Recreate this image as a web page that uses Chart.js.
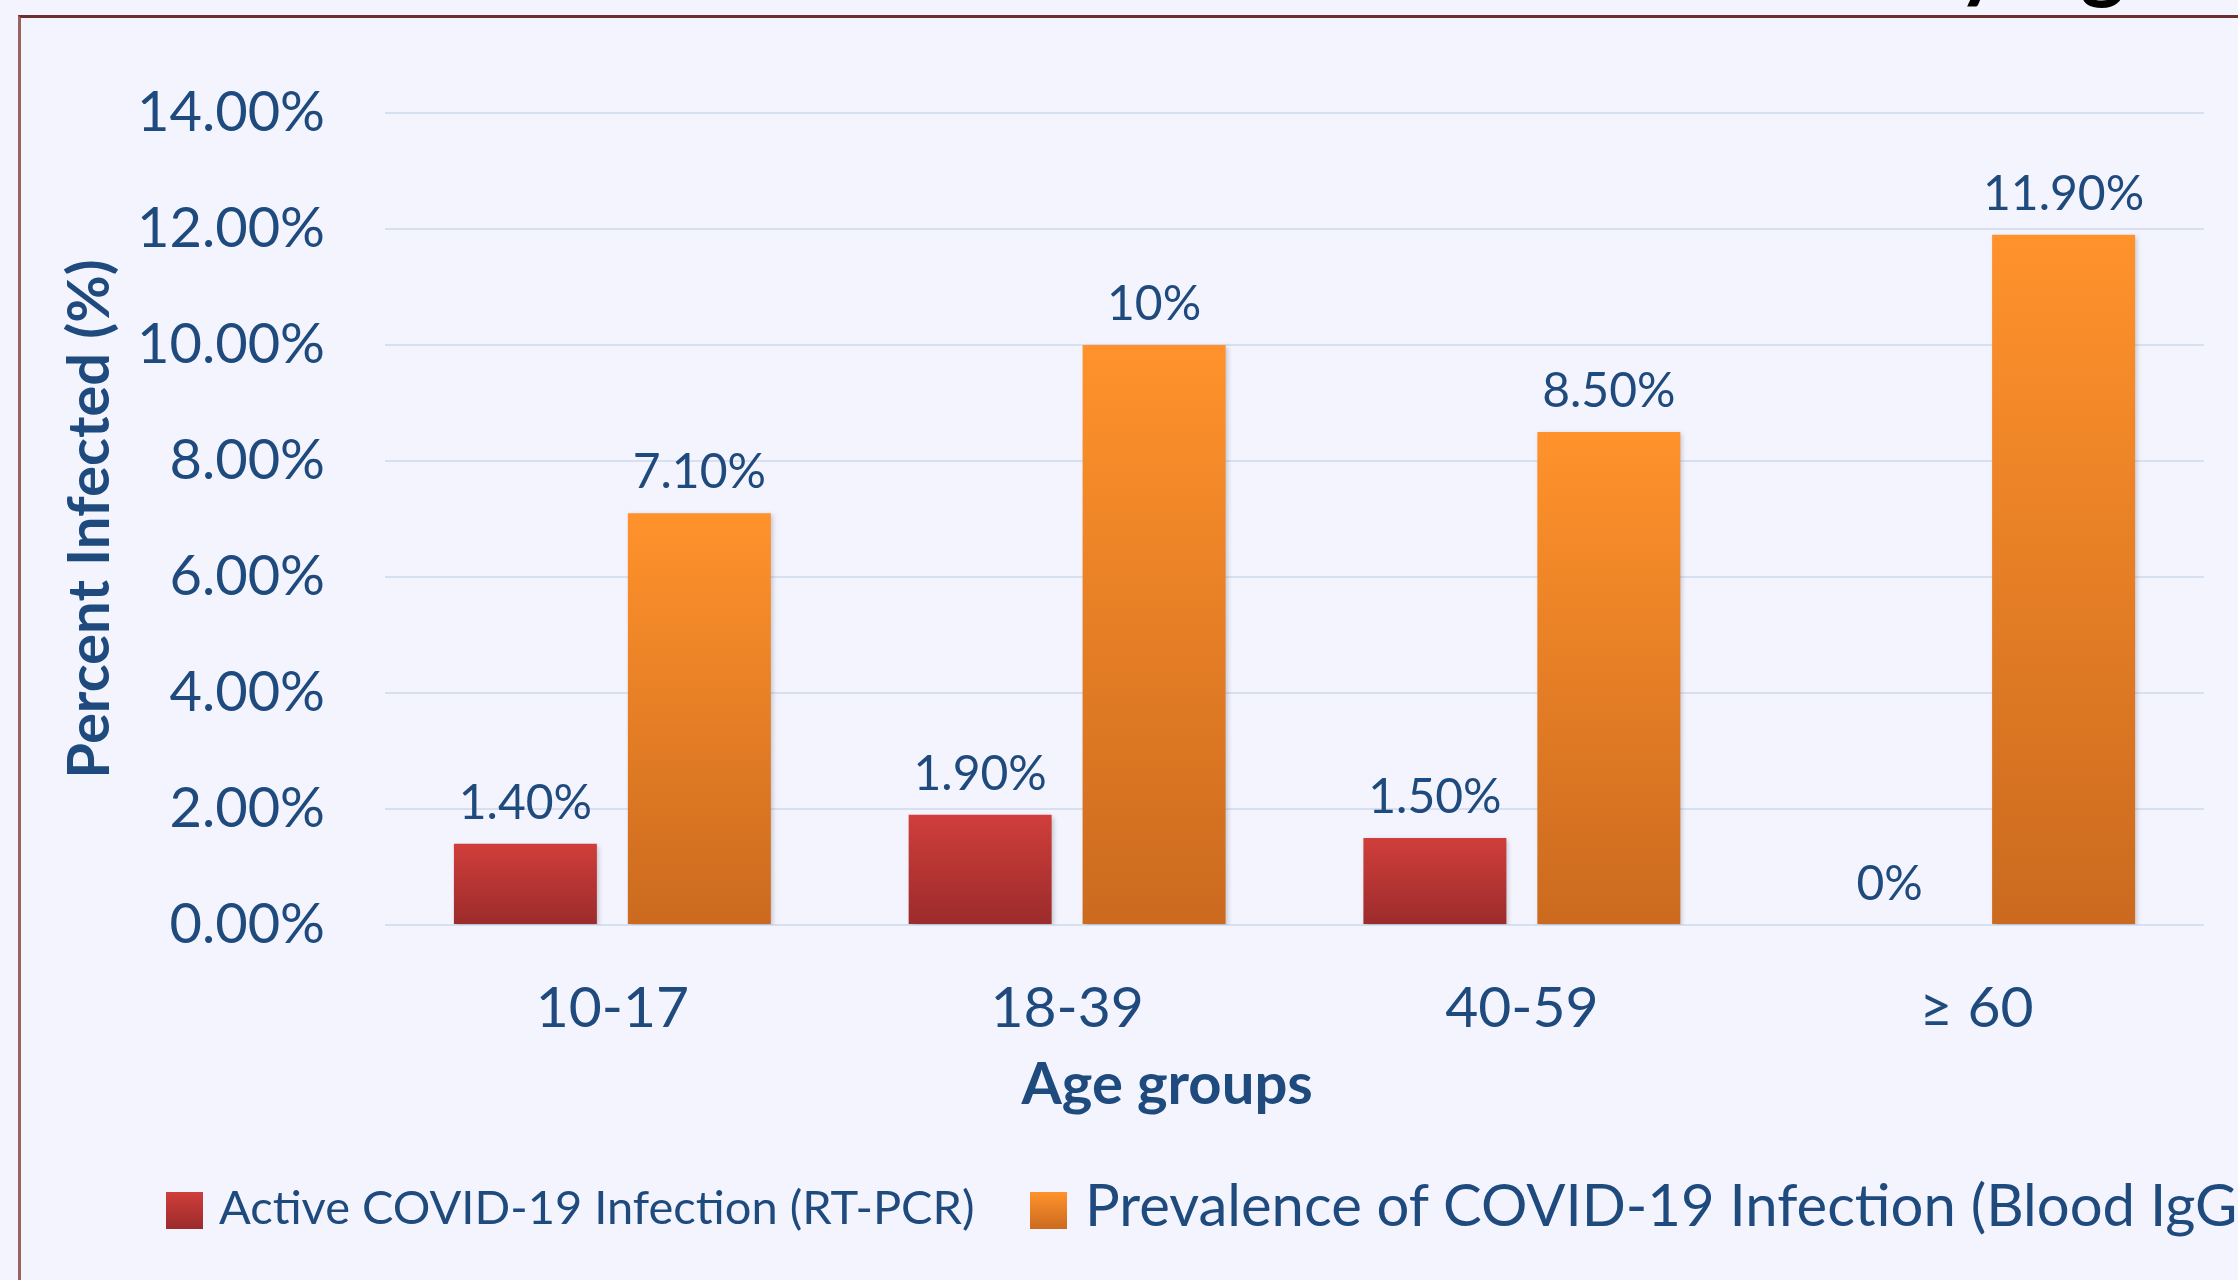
<!DOCTYPE html>
<html>
<head>
<meta charset="utf-8">
<script src="https://cdn.jsdelivr.net/npm/chart.js@4.4.1/dist/chart.umd.min.js"></script>
<style>
  html, body { margin:0; padding:0; width:2238px; height:1280px; overflow:hidden; background:#f3f4fd; }
  #frame { position:absolute; left:18px; top:15px; width:2300px; height:1400px;
           border-top:3px solid #6c2f2f; border-left:3px solid #9c6060; box-sizing:border-box; }
  #wrap { position:absolute; left:0; top:0; width:2238px; height:1280px; }
  .lg-box { position:absolute; width:37px; height:37px; top:1192px; }
  .lg-text { position:absolute; white-space:nowrap; color:#1f4a7e; font-family:Lato, "Open Sans", sans-serif; line-height:1; }
</style>
</head>
<body>
<div id="frame"></div>
<div id="wrap"><canvas id="c"></canvas></div>
<div class="lg-box" style="left:166px;background:linear-gradient(#d03e3b,#9b2b2b);"></div>
<div class="lg-text" id="lg1" style="left:219px;top:1183px;font-size:47px;"></div>
<div class="lg-box" style="left:1030px;background:linear-gradient(#ff922b,#cb6a1f);"></div>
<div class="lg-text" id="lg2" style="left:1085px;top:1175px;font-size:58px;"></div>
<script>
const categories = ['10-17', '18-39', '40-59', '\u2265 60'];
const seriesNames = ['Active COVID-19 Infection (RT-PCR)', 'Prevalence of COVID-19 Infection (Blood IgG)'];
const activeValues = [1.4, 1.9, 1.5, 0];
const prevalenceValues = [7.1, 10, 8.5, 11.9];
const activeLabels = ['1.40%', '1.90%', '1.50%', '0%'];
const prevalenceLabels = ['7.10%', '10%', '8.50%', '11.90%'];
const yTickLabels = ['0.00%', '2.00%', '4.00%', '6.00%', '8.00%', '10.00%', '12.00%', '14.00%'];
const yAxisTitle = 'Percent Infected (%)';
const xAxisTitle = 'Age groups';
const topTitleFragment = 'by Age';

document.getElementById('lg1').textContent = seriesNames[0];
document.getElementById('lg2').textContent = seriesNames[1];

const TEXT = '#1f4a7e';
const FONT = 'Lato, "Open Sans", sans-serif';

function barGradient(topColor, bottomColor) {
  return (ctx) => {
    const chart = ctx.chart;
    if (ctx.type !== 'data' || !chart.chartArea || !chart.scales.y) return topColor;
    const y = chart.scales.y;
    const v = ctx.raw;
    const yTop = y.getPixelForValue(v);
    const yBase = y.getPixelForValue(0);
    if (!isFinite(yTop) || Math.abs(yBase - yTop) < 1) return topColor;
    const g = chart.ctx.createLinearGradient(0, yTop, 0, yBase);
    g.addColorStop(0, topColor);
    g.addColorStop(1, bottomColor);
    return g;
  };
}

const shadowPlugin = {
  id: 'shadow',
  beforeDatasetsDraw(chart) {
    const c = chart.ctx;
    c.save();
    c.shadowColor = 'rgba(60,60,80,0.28)';
    c.shadowBlur = 5;
    c.shadowOffsetX = 2;
    c.shadowOffsetY = 2;
  },
  afterDatasetsDraw(chart) { chart.ctx.restore(); }
};

const labelPlugin = {
  id: 'valueLabels',
  afterDatasetsDraw(chart) {
    const c = chart.ctx;
    const sets = [activeLabels, prevalenceLabels];
    c.save();
    c.font = '48px ' + FONT;
    c.fillStyle = TEXT;
    c.textAlign = 'center';
    c.textBaseline = 'alphabetic';
    sets.forEach((labels, di) => {
      chart.getDatasetMeta(di).data.forEach((el, i) => {
        c.fillText(labels[i], el.x, el.y - 25);
      });
    });
    c.restore();
  }
};

const extraTextPlugin = {
  id: 'extraText',
  afterDraw(chart) {
    const c = chart.ctx;
    const a = chart.chartArea;
    c.save();
    c.font = 'bold 58px ' + FONT;
    c.fillStyle = TEXT;
    c.textAlign = 'center';
    c.textBaseline = 'middle';
    c.fillText(xAxisTitle, a.left + a.width * 0.43, 1085);
    c.font = 'bold 84px ' + FONT;
    c.fillStyle = '#000000';
    c.textAlign = 'left';
    c.textBaseline = 'alphabetic';
    c.fillText(topTitleFragment, 1911, -8);
    c.restore();
  }
};

new Chart(document.getElementById('c'), {
  type: 'bar',
  data: {
    labels: categories,
    datasets: [
      { label: seriesNames[0], data: activeValues,
        backgroundColor: barGradient('#d03e3b', '#9b2b2b'),
        categoryPercentage: 0.765, barPercentage: 0.822 },
      { label: seriesNames[1], data: prevalenceValues,
        backgroundColor: barGradient('#ff922b', '#cb6a1f'),
        categoryPercentage: 0.765, barPercentage: 0.822 }
    ]
  },
  options: {
    responsive: true,
    maintainAspectRatio: false,
    animation: false,
    layout: { padding: { top: 113, right: 34, bottom: 0, left: 0 } },
    plugins: { legend: { display: false }, tooltip: { enabled: false }, title: { display: false } },
    scales: {
      x: {
        grid: { display: false },
        border: { display: false },
        ticks: { color: TEXT, font: { family: FONT, size: 57 }, padding: 41 },
        afterFit(s) { s.height = 355; }
      },
      y: {
        min: 0, max: 14,
        grid: { color: '#d7e0f1', lineWidth: 2, drawTicks: false },
        border: { display: false },
        ticks: { stepSize: 2, color: TEXT, font: { family: FONT, size: 56 }, padding: 60,
                 callback: (v, i) => yTickLabels[i] },
        title: { display: true, text: yAxisTitle, color: TEXT,
                 font: { family: FONT, size: 58, weight: 'bold' }, padding: { top: 55, bottom: 0 } },
        afterFit(s) { s.width = 385; }
      }
    }
  },
  plugins: [shadowPlugin, labelPlugin, extraTextPlugin]
});
</script>
</body>
</html>
